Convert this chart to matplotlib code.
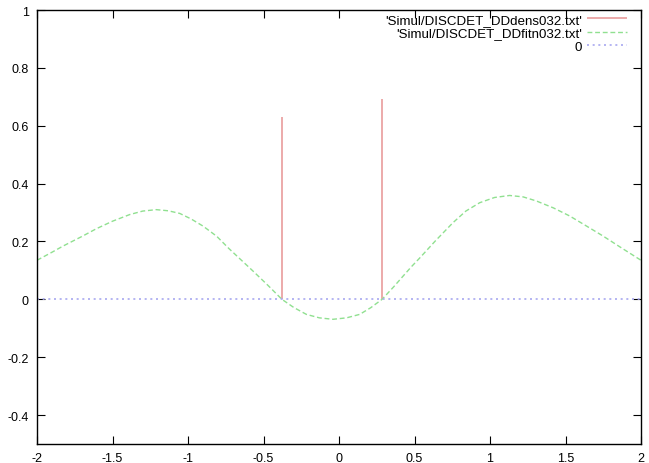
import matplotlib
matplotlib.use("Agg")
import matplotlib.pyplot as plt

plt.rcParams['font.family'] = ['Liberation Sans', 'DejaVu Sans']

# density: two delta spikes
spike_x = [-0.378, 0.285]
spike_h = [0.631, 0.693]

# fitted curve
fit_x = [-2.0, -1.9, -1.828, -1.7, -1.607, -1.5, -1.386, -1.3, -1.21, -1.13,
         -1.055, -0.98, -0.90, -0.81, -0.728, -0.65, -0.57, -0.47, -0.378, -0.30,
         -0.216, -0.13, -0.04, 0.05, 0.137, 0.21, 0.285, 0.36, 0.424, 0.48,
         0.533, 0.64, 0.755, 0.84, 0.932, 1.03, 1.13, 1.22, 1.307, 1.42,
         1.528, 1.64, 1.748, 1.87, 2.0]
fit_y = [0.135, 0.163, 0.184, 0.218, 0.244, 0.270, 0.293, 0.305, 0.310, 0.306,
         0.297, 0.278, 0.253, 0.218, 0.175, 0.137, 0.098, 0.048, 0.0, -0.028,
         -0.052, -0.064, -0.069, -0.064, -0.052, -0.029, 0.0, 0.042, 0.080, 0.113,
         0.142, 0.203, 0.265, 0.305, 0.334, 0.352, 0.359, 0.354, 0.340, 0.316,
         0.288, 0.253, 0.219, 0.178, 0.135]

zero_x = [-2, 2]
zero_y = [0, 0]

labels = ["'Simul/DISCDET_DDdens032.txt'", "'Simul/DISCDET_DDfitn032.txt'", "0"]

fig = plt.figure(figsize=(6.49, 4.64), dpi=100)
ax = fig.add_axes([37 / 649, 1 - 445 / 464, (641 - 37) / 649, (445 - 11) / 464])

ax.vlines(spike_x, 0, spike_h, color='#eaa4a4', lw=1.3, label=labels[0])
ax.plot(fit_x, fit_y, color='#90e090', lw=1.0, dashes=(3.5, 2), label=labels[1])
ax.plot(zero_x, zero_y, color='#a8a8f0', lw=1.2, dashes=(1.2, 2.2), label=labels[2])

ax.set_xlim(-2, 2)
ax.set_ylim(-0.5, 1)
ax.set_xticks([-2, -1.5, -1, -0.5, 0, 0.5, 1, 1.5, 2])
ax.set_xticklabels(['-2', '-1.5', '-1', '-0.5', '0', '0.5', '1', '1.5', '2'])
ax.set_yticks([-0.4, -0.2, 0, 0.2, 0.4, 0.6, 0.8, 1])
ax.set_yticklabels(['-0.4', '-0.2', '0', '0.2', '0.4', '0.6', '0.8', '1'])
ax.tick_params(direction='in', length=6, width=0.8, top=True, right=True,
               labelsize=9, pad=6)
for s in ax.spines.values():
    s.set_linewidth(1.0)

ax.legend(loc='upper right', frameon=False, markerfirst=False, fontsize=9.6,
          handlelength=3.0, handletextpad=0.4, labelspacing=0.08,
          borderpad=0, borderaxespad=0, bbox_to_anchor=(0.977, 0.992))

fig.savefig('out.png', dpi=100)
